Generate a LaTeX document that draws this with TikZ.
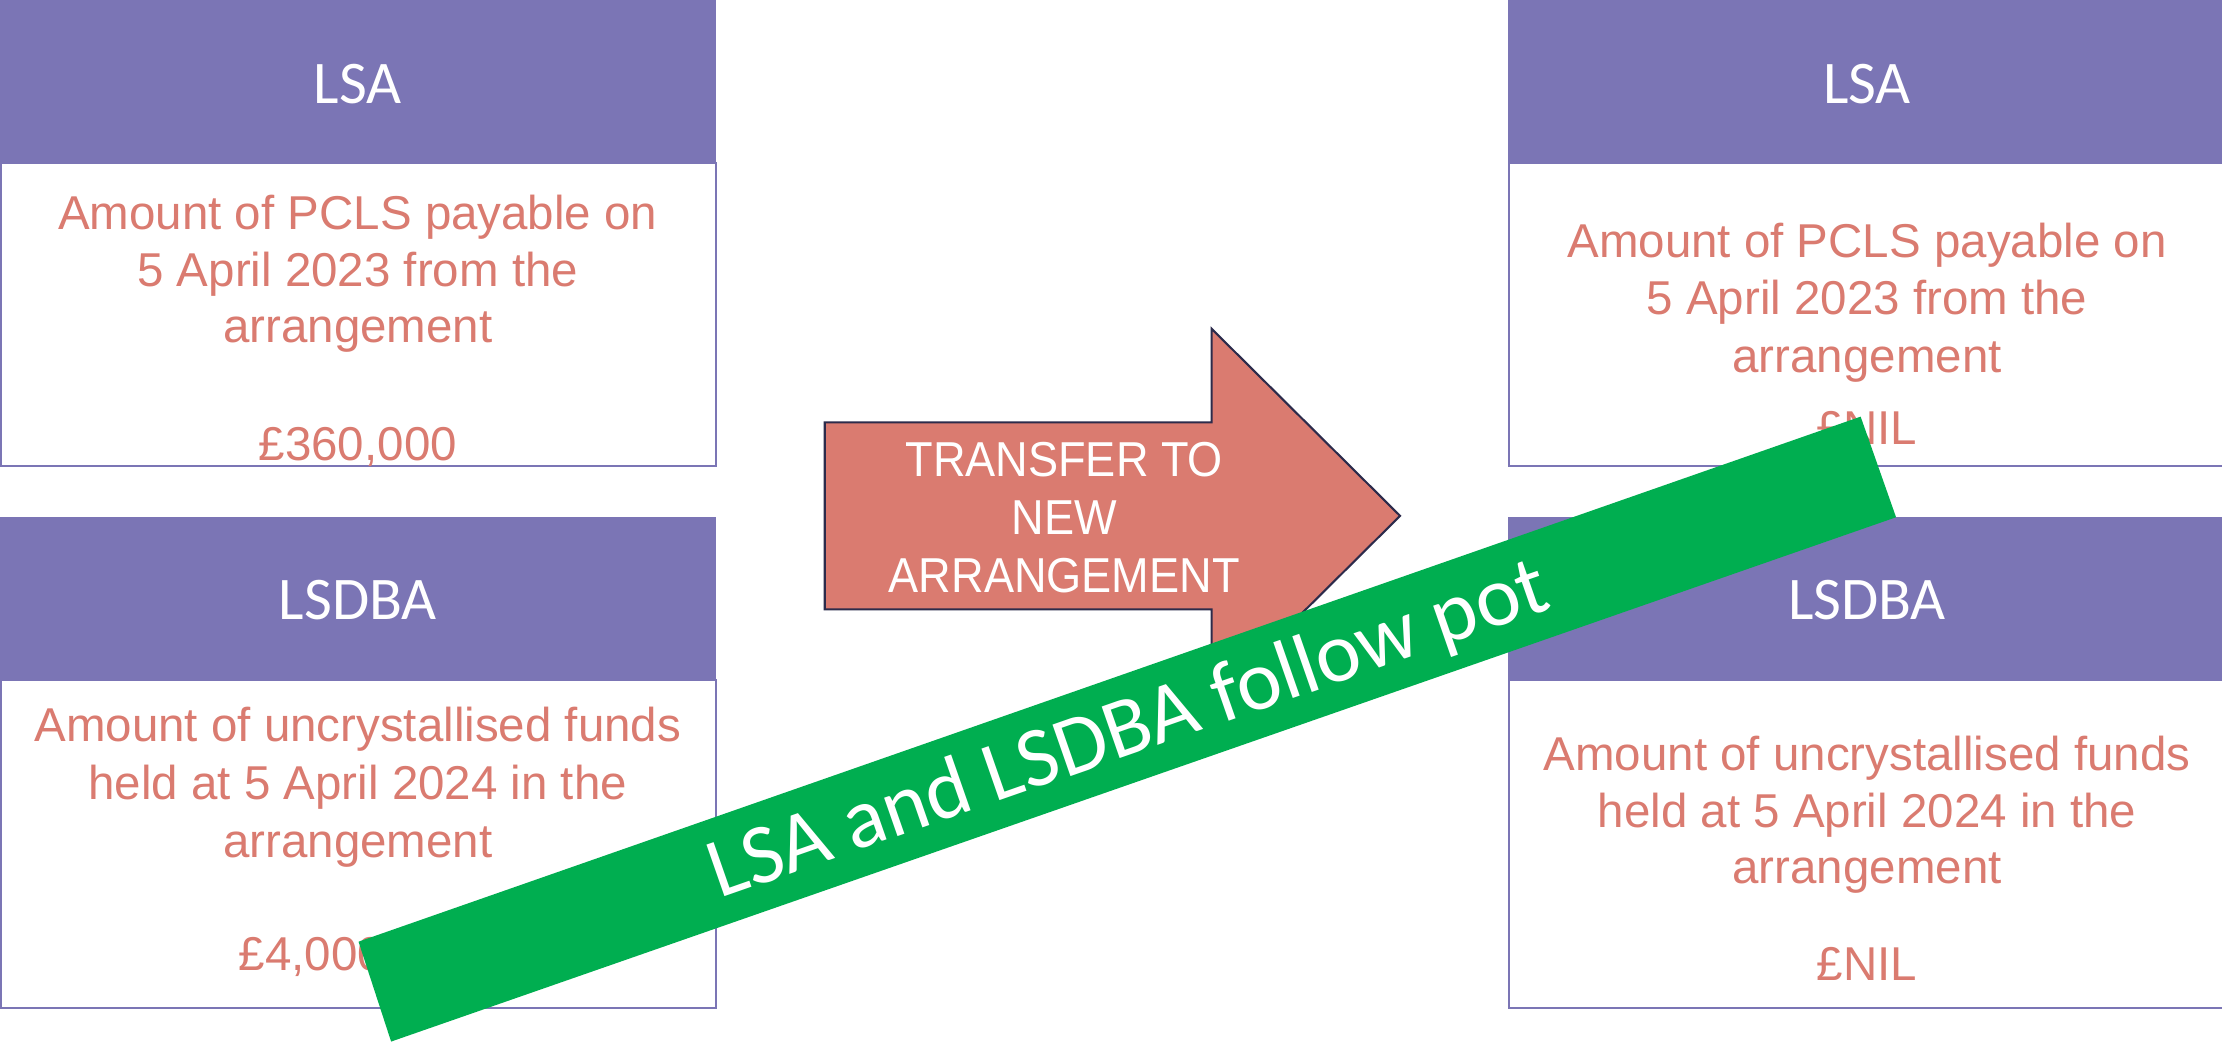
\documentclass[tikz,border=0pt]{standalone}
\usepackage{fontspec}
\setmainfont{Liberation Sans}
\newfontfamily\hdfont{Carlito}
\newfontfamily\arrfont[FakeStretch=0.92]{Liberation Sans}
\definecolor{hdrpurple}{HTML}{7B75B5}
\definecolor{salmon}{HTML}{DA7B70}
\definecolor{navy}{HTML}{2C2B4B}
\definecolor{bandgreen}{HTML}{00AE50}
\begin{document}
\begin{tikzpicture}[x=0.01cm,y=-0.01cm,
  hdr/.style={fill=hdrpurple, draw=none},
  bodybox/.style={draw=hdrpurple, line width=0.42pt, fill=white},
  hdtext/.style={anchor=base, inner sep=0pt, text=white, font=\hdfont\fontsize{12.15}{14}\selectfont},
  bodytext/.style={anchor=base, inner sep=0pt, text=salmon, font=\fontsize{9.53}{11.4}\selectfont},
  arrtext/.style={anchor=base, inner sep=0pt, text=white, font=\arrfont\fontsize{9.84}{11.7}\selectfont},
  bandtext/.style={anchor=base, inner sep=0pt, text=white, font=\hdfont\fontsize{17.07}{20}\selectfont}]
\useasboundingbox (0,0) rectangle (1568,738);
\fill[white] (0,0) rectangle (1568,738);

% ---- left top box (LSA)
\draw[bodybox] (0.7,115) rectangle (505,329);
\fill[hdr] (0,0) rectangle (505.5,115);
\node[hdtext] (lsaL) at (252.5,73) {LSA};
\node[bodytext] (lt1) at (252.5,162) {Amount of PCLS payable on};
\node[bodytext] (lt2) at (252.5,202) {5 April 2023 from the};
\node[bodytext] (lt3) at (252.5,242) {arrangement};
\node[bodytext] (lt4) at (252.5,325) {£360,000};

% ---- left bottom box (LSDBA)
\draw[bodybox] (0.7,480) rectangle (505,711);
\fill[hdr] (0,365) rectangle (505.5,480);
\node[hdtext] (lsdbaL) at (252.5,437) {LSDBA};
\node[bodytext] (lb1) at (252.5,523) {Amount of uncrystallised funds};
\node[bodytext] (lb2) at (252.5,564) {held at 5 April 2024 in the};
\node[bodytext] (lb3) at (252.5,605) {arrangement};
\node[bodytext] (lb4) at (252.5,685) {£4,000,000};

% ---- right top box (LSA)
\draw[bodybox] (1065,115) rectangle (1572,329);
\fill[hdr] (1064.5,0) rectangle (1572,115);
\node[hdtext] (lsaR) at (1317.5,73) {LSA};
\node[bodytext] (rt1) at (1317.5,182) {Amount of PCLS payable on};
\node[bodytext] (rt2) at (1317.5,222) {5 April 2023 from the};
\node[bodytext] (rt3) at (1317.5,263) {arrangement};
\node[bodytext] (rt4) at (1317.5,314) {£NIL};

% ---- right bottom box (LSDBA)
\draw[bodybox] (1065,480) rectangle (1572,711);
\fill[hdr] (1064.5,365) rectangle (1572,480);
\node[hdtext] (lsdbaR) at (1317.5,437) {LSDBA};
\node[bodytext] (rb1) at (1317.5,544) {Amount of uncrystallised funds};
\node[bodytext] (rb2) at (1317.5,584) {held at 5 April 2024 in the};
\node[bodytext] (rb3) at (1317.5,623.5) {arrangement};
\node[bodytext] (rb4) at (1317.5,692) {£NIL};

% ---- transfer arrow
\draw[fill=salmon, draw=navy, line width=0.42pt, line join=miter]
  (582,298) -- (855,298) -- (855,232) -- (988,364) -- (855,496) -- (855,430) -- (582,430) -- cycle;
\node[arrtext] (ar1) at (751,336) {TRANSFER TO};
\node[arrtext] (ar2) at (751,377) {NEW};
\node[arrtext] (ar3) at (751,418) {ARRANGEMENT};

% ---- green band
\fill[bandgreen] (253,664.5) -- (1313,294) -- (1338,365) -- (276,735) -- cycle;
\node[bandtext, rotate=19.25] (band) at (802,531.5) {LSA and LSDBA follow pot};
\end{tikzpicture}
\end{document}
